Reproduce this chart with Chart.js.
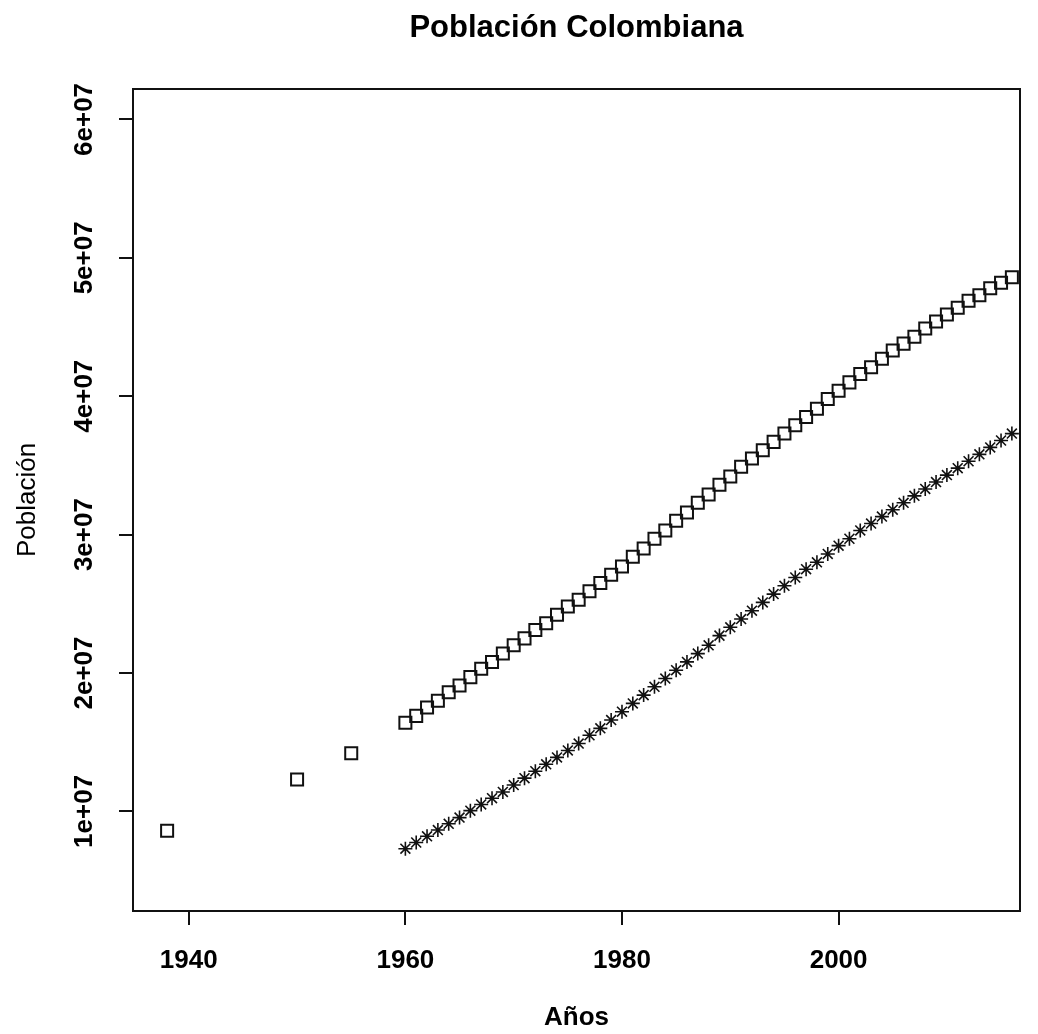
<!DOCTYPE html>
<html>
<head>
<meta charset="utf-8">
<title>Población Colombiana</title>
<script src="https://cdn.jsdelivr.net/npm/chart.js@4/dist/chart.umd.min.js"></script>
<style>
  html, body { margin: 0; padding: 0; background: #fff; }
  canvas { display: block; }
</style>
</head>
<body>
<canvas id="poblacion" width="1038" height="1034"></canvas>
<script>
// Censos y serie anual de población total
const anios = [1938, 1950, 1955,
  1960, 1961, 1962, 1963, 1964, 1965, 1966, 1967, 1968, 1969,
  1970, 1971, 1972, 1973, 1974, 1975, 1976, 1977, 1978, 1979,
  1980, 1981, 1982, 1983, 1984, 1985, 1986, 1987, 1988, 1989,
  1990, 1991, 1992, 1993, 1994, 1995, 1996, 1997, 1998, 1999,
  2000, 2001, 2002, 2003, 2004, 2005, 2006, 2007, 2008, 2009,
  2010, 2011, 2012, 2013, 2014, 2015, 2016];
const poblacion = [8.6e6, 12.3e6, 14.2e6,
  16.4e6, 16.9e6, 17.5e6, 18.0e6, 18.6e6, 19.1e6, 19.7e6, 20.3e6, 20.8e6, 21.4e6,
  22.0e6, 22.5e6, 23.1e6, 23.6e6, 24.2e6, 24.8e6, 25.3e6, 25.9e6, 26.5e6, 27.1e6,
  27.7e6, 28.4e6, 29.0e6, 29.7e6, 30.3e6, 31.0e6, 31.6e6, 32.3e6, 32.9e6, 33.6e6,
  34.2e6, 34.9e6, 35.5e6, 36.1e6, 36.7e6, 37.3e6, 37.9e6, 38.5e6, 39.1e6, 39.8e6,
  40.4e6, 41.0e6, 41.6e6, 42.1e6, 42.7e6, 43.3e6, 43.8e6, 44.3e6, 44.9e6, 45.4e6,
  45.9e6, 46.4e6, 46.9e6, 47.3e6, 47.8e6, 48.2e6, 48.6e6];

// Población urbana
const aniosUrbana = [
  1960, 1961, 1962, 1963, 1964, 1965, 1966, 1967, 1968, 1969,
  1970, 1971, 1972, 1973, 1974, 1975, 1976, 1977, 1978, 1979,
  1980, 1981, 1982, 1983, 1984, 1985, 1986, 1987, 1988, 1989,
  1990, 1991, 1992, 1993, 1994, 1995, 1996, 1997, 1998, 1999,
  2000, 2001, 2002, 2003, 2004, 2005, 2006, 2007, 2008, 2009,
  2010, 2011, 2012, 2013, 2014, 2015, 2016];
const poblacionUrbana = [
  7.3e6, 7.75e6, 8.2e6, 8.65e6, 9.1e6, 9.55e6, 10.05e6, 10.5e6, 10.95e6, 11.4e6,
  11.9e6, 12.4e6, 12.9e6, 13.4e6, 13.9e6, 14.4e6, 14.9e6, 15.5e6, 16.0e6, 16.6e6,
  17.2e6, 17.8e6, 18.4e6, 19.0e6, 19.6e6, 20.2e6, 20.8e6, 21.4e6, 22.0e6, 22.7e6,
  23.3e6, 23.9e6, 24.5e6, 25.1e6, 25.7e6, 26.3e6, 26.9e6, 27.5e6, 28.0e6, 28.6e6,
  29.2e6, 29.7e6, 30.3e6, 30.8e6, 31.3e6, 31.8e6, 32.3e6, 32.8e6, 33.3e6, 33.8e6,
  34.3e6, 34.8e6, 35.3e6, 35.8e6, 36.3e6, 36.8e6, 37.3e6];

const xTicks = [1940, 1960, 1980, 2000];
const yTicks = [1e7, 2e7, 3e7, 4e7, 5e7, 6e7];
const yTickLabels = ['1e+07', '2e+07', '3e+07', '4e+07', '5e+07', '6e+07'];

const FONT = '"Liberation Sans", Arial, sans-serif';
const INK = '#111';

// Marco, título, etiquetas de ejes (las del eje y van giradas, estilo R)
const marcoYTextos = {
  id: 'marcoYTextos',
  afterDraw(chart) {
    const ctx = chart.ctx;
    const a = chart.chartArea;
    const xs = chart.scales.x;
    const ys = chart.scales.y;
    const cx = (a.left + a.right) / 2;
    const cy = (a.top + a.bottom) / 2;

    ctx.save();
    ctx.strokeStyle = INK;
    ctx.lineWidth = 2;
    ctx.strokeRect(a.left, a.top, a.right - a.left, a.bottom - a.top);

    ctx.fillStyle = '#000';
    ctx.textAlign = 'center';
    ctx.textBaseline = 'alphabetic';

    ctx.font = 'bold 31px ' + FONT;
    ctx.fillText('Población Colombiana', cx, 37);

    ctx.font = 'bold 26px ' + FONT;
    xTicks.forEach(v => ctx.fillText(String(v), xs.getPixelForValue(v), 968));
    ctx.fillText('Años', cx, 1025);

    yTicks.forEach((v, i) => {
      ctx.save();
      ctx.translate(92, ys.getPixelForValue(v));
      ctx.rotate(-Math.PI / 2);
      ctx.fillText(yTickLabels[i], 0, 0);
      ctx.restore();
    });

    ctx.font = '26px ' + FONT;
    ctx.translate(35, cy);
    ctx.rotate(-Math.PI / 2);
    ctx.fillText('Población', 0, 0);
    ctx.restore();
  }
};

new Chart(document.getElementById('poblacion'), {
  type: 'scatter',
  data: {
    datasets: [
      {
        label: 'Total',
        data: anios.map((a, i) => ({ x: a, y: poblacion[i] })),
        pointStyle: 'rect',
        radius: 8.5,
        borderWidth: 2,
        borderColor: INK,
        backgroundColor: 'rgba(0,0,0,0)'
      },
      {
        label: 'Urbana',
        data: aniosUrbana.map((a, i) => ({ x: a, y: poblacionUrbana[i] })),
        pointStyle: 'star',
        radius: 7,
        borderWidth: 1.6,
        borderColor: INK,
        backgroundColor: 'rgba(0,0,0,0)'
      }
    ]
  },
  options: {
    responsive: false,
    animation: false,
    layout: { padding: { top: 89, right: 18, left: 0, bottom: 0 } },
    plugins: {
      legend: { display: false },
      title: { display: false },
      tooltip: { enabled: false }
    },
    scales: {
      x: {
        type: 'linear',
        min: 1934.85,
        max: 2016.75,
        afterBuildTicks: s => { s.ticks = xTicks.map(v => ({ value: v })); },
        afterFit: s => { s.height = 123; },
        ticks: { display: false },
        border: { display: false },
        grid: { drawOnChartArea: false, drawTicks: true, tickLength: 14, color: INK, lineWidth: 2 }
      },
      y: {
        type: 'linear',
        min: 2.8e6,
        max: 6.22e7,
        afterBuildTicks: s => { s.ticks = yTicks.map(v => ({ value: v })); },
        afterFit: s => { s.width = 133; },
        ticks: { display: false },
        border: { display: false },
        grid: { drawOnChartArea: false, drawTicks: true, tickLength: 14, color: INK, lineWidth: 2 }
      }
    }
  },
  plugins: [marcoYTextos]
});
</script>
</body>
</html>
